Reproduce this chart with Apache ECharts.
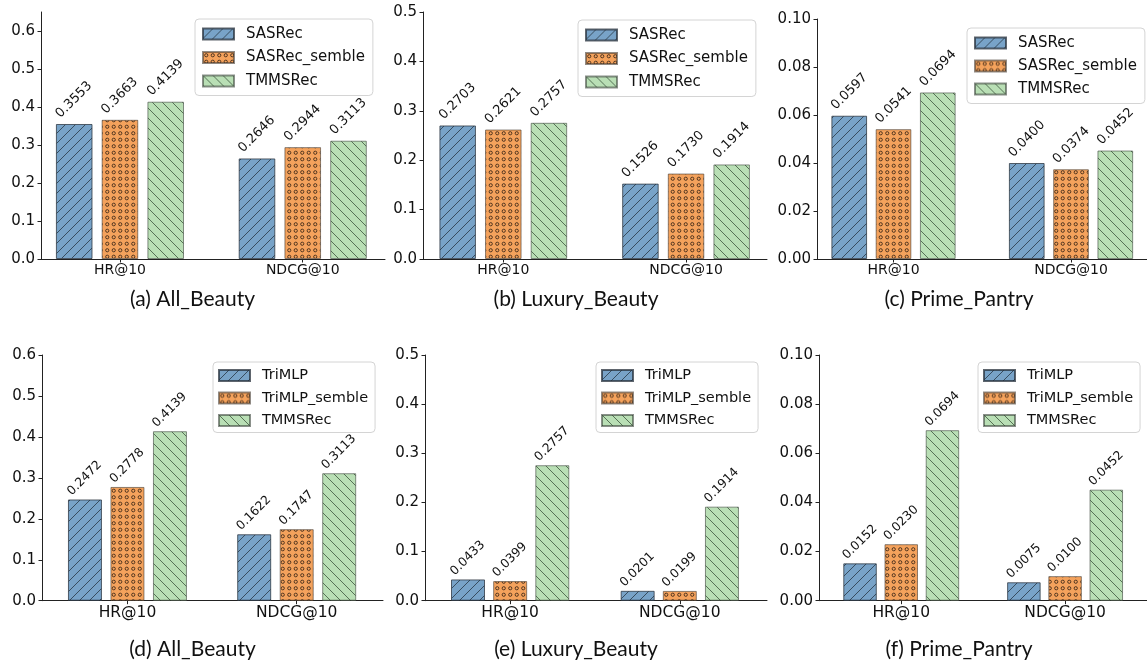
<!DOCTYPE html>
<html><head><meta charset="utf-8">
<script src="https://cdn.jsdelivr.net/npm/echarts@6/dist/echarts.min.js"></script>
<style>html,body{margin:0;padding:0;background:#fff}#c{width:1147px;height:664px}</style>
</head><body><div id="c"></div>
<script>
// ---------------- data ----------------
const categories = ['HR@10', 'NDCG@10'];
const methodsTop = ['SASRec', 'SASRec_semble', 'TMMSRec'];
const methodsBottom = ['TriMLP', 'TriMLP_semble', 'TMMSRec'];
const captions = ['(a) All_Beauty', '(b) Luxury_Beauty', '(c) Prime_Pantry',
                  '(d) All_Beauty', '(e) Luxury_Beauty', '(f) Prime_Pantry'];
// values per panel: [method][category]
const valuesA = [[0.3553, 0.2646], [0.3663, 0.2944], [0.4139, 0.3113]];
const valuesB = [[0.2703, 0.1526], [0.2621, 0.1730], [0.2757, 0.1914]];
const valuesC = [[0.0597, 0.0400], [0.0541, 0.0374], [0.0694, 0.0452]];
const valuesD = [[0.2472, 0.1622], [0.2778, 0.1747], [0.4139, 0.3113]];
const valuesE = [[0.0433, 0.0201], [0.0399, 0.0199], [0.2757, 0.1914]];
const valuesF = [[0.0152, 0.0075], [0.0230, 0.0100], [0.0694, 0.0452]];
const yMaxes = [0.65, 0.5, 0.1, 0.6, 0.5, 0.1];
const yIntervals = [0.1, 0.1, 0.02, 0.1, 0.1, 0.02];

// ---------------- layout / style ----------------
const panels = [
  {vals: valuesA, names: methodsTop,    left: 41,  top: 12,  width: 344, height: 247,   xMin: -0.432, xMax: 1.450, bw: 36.6, gap: '25%', lg: [195, 19], lgGap: 8.5, lgFs: 15, xFs: 14,   cap: [192.5, 299], dec: 1, lab: [2, -8], labFs: 13},
  {vals: valuesB, names: methodsTop,    left: 423, top: 12,  width: 344, height: 247,   xMin: -0.4395, xMax: 1.443, bw: 36.5, gap: '25%', lg: [578, 20], lgGap: 8.5, lgFs: 15, xFs: 14,   cap: [576, 299],   dec: 1, lab: [2, -8], labFs: 13},
  {vals: valuesC, names: methodsTop,    left: 817, top: 19,  width: 330, height: 240,   xMin: -0.431, xMax: 1.428, bw: 35.7, gap: '24%', lg: [967, 28], lgGap: 8, lgFs: 15, xFs: 14, cap: [959, 299],   dec: 2, lab: [2, -8], labFs: 13},
  {vals: valuesD, names: methodsBottom, left: 42,  top: 355, width: 341, height: 245.7, xMin: -0.505, xMax: 1.510, bw: 34,   gap: '25%', lg: [213, 362], lgGap: 7.5, lgFs: 14.5, xFs: 15.5, cap: [192.5, 649], dec: 1, lab: [1.5, -6], labFs: 12.3},
  {vals: valuesE, names: methodsBottom, left: 425, top: 355, width: 342, height: 245.7, xMin: -0.502, xMax: 1.514, bw: 34,   gap: '24%', lg: [596, 362], lgGap: 7.5, lgFs: 14.5, xFs: 15.5, cap: [576, 649],   dec: 1, lab: [1.5, -6], labFs: 12.3},
  {vals: valuesF, names: methodsBottom, left: 819, top: 355, width: 328, height: 245.7, xMin: -0.502, xMax: 1.500, bw: 33.5, gap: '23%', lg: [978, 362], lgGap: 7.5, lgFs: 14.5, xFs: 15.5, cap: [959, 649],   dec: 2, lab: [1.5, -6], labFs: 12.3}
];

function makePattern(bg, kind) {
  const c = document.createElement('canvas');
  let w = 10, h = 10;
  if (kind === 'o') { w = 13; h = 13; }
  c.width = w; c.height = h;
  const ctx = c.getContext('2d');
  ctx.fillStyle = bg; ctx.fillRect(0, 0, w, h);
  if (kind === '/') {
    ctx.strokeStyle = 'rgba(25,35,45,0.85)'; ctx.lineWidth = 0.8;
    ctx.beginPath();
    ctx.moveTo(-1, h + 1); ctx.lineTo(w + 1, -1);
    ctx.moveTo(-1, 1); ctx.lineTo(1, -1);
    ctx.moveTo(w - 1, h + 1); ctx.lineTo(w + 1, h - 1);
    ctx.stroke();
  } else if (kind === '\\') {
    ctx.strokeStyle = 'rgba(30,50,30,0.8)'; ctx.lineWidth = 0.8;
    ctx.beginPath();
    ctx.moveTo(-1, -1); ctx.lineTo(w + 1, h + 1);
    ctx.moveTo(w - 1, -1); ctx.lineTo(w + 1, 1);
    ctx.moveTo(-1, h - 1); ctx.lineTo(1, h + 1);
    ctx.stroke();
  } else {
    ctx.strokeStyle = 'rgba(40,25,15,0.85)'; ctx.lineWidth = 0.9;
    [[3.25, 3.25], [9.75, 3.25], [3.25, 9.75], [9.75, 9.75]].forEach(p => {
      ctx.beginPath(); ctx.arc(p[0], p[1], 1.6, 0, Math.PI * 2); ctx.stroke();
    });
  }
  return {image: c, repeat: 'repeat'};
}
const fills = [makePattern('#78a3c8', '/'), makePattern('#f4a25c', 'o'), makePattern('#b9dfb5', '\\')];
const borders = ['rgba(40,50,60,0.75)', 'rgba(70,60,50,0.6)', 'rgba(60,70,60,0.6)'];

const grids = [], xAxes = [], yAxes = [], series = [], legends = [], graphics = [];
panels.forEach((p, i) => {
  grids.push({left: p.left, top: p.top, width: p.width, height: p.height});
  xAxes.push({
    type: 'value', gridIndex: i, min: p.xMin, max: p.xMax,
    axisLine: {show: true, onZero: false, lineStyle: {color: '#222', width: 1}},
    axisTick: {show: true, length: 3.5, customValues: [0, 1], lineStyle: {color: '#222'}},
    axisLabel: {customValues: [0, 1], formatter: v => categories[Math.round(v)] || '',
      fontFamily: 'DejaVu Sans', fontSize: p.xFs, color: '#111', margin: 4},
    splitLine: {show: false}
  });
  yAxes.push({
    type: 'value', gridIndex: i, min: 0, max: yMaxes[i], interval: yIntervals[i],
    axisLine: {show: true, onZero: false, lineStyle: {color: '#222', width: 1}},
    axisTick: {show: true, length: 3.5, lineStyle: {color: '#222'}},
    axisLabel: {formatter: v => v.toFixed(p.dec), fontFamily: 'DejaVu Sans', fontSize: 15,
      color: '#111', margin: 6, showMaxLabel: yMaxes[i] === 0.65 ? false : true},
    splitLine: {show: false}
  });
  p.names.forEach((name, k) => {
    series.push({
      type: 'bar', name: name, xAxisIndex: i, yAxisIndex: i,
      data: categories.map((c, j) => [j, p.vals[k][j]]),
      barWidth: p.bw, barGap: p.gap,
      itemStyle: {color: fills[k], borderColor: borders[k], borderWidth: 1},
      emphasis: {disabled: true},
      label: {show: true, position: p.lab, rotate: 45, align: 'left', verticalAlign: 'middle',
        fontFamily: 'DejaVu Sans', fontSize: p.labFs, color: '#111',
        formatter: prm => prm.value[1].toFixed(4)}
    });
  });
  legends.push({
    orient: 'vertical', left: p.lg[0], top: p.lg[1], data: p.names,
    itemWidth: 31, itemHeight: 11, itemGap: p.lgGap,
    padding: i < 3 ? [7.5, 8, 7, 7] : [6, 7, 4.5, 5],
    borderColor: '#d4d4d4', borderWidth: 1, borderRadius: 4, backgroundColor: 'rgba(255,255,255,0.8)',
    selectedMode: false, icon: 'rect',
    textStyle: {fontFamily: 'DejaVu Sans', fontSize: p.lgFs, color: '#111', padding: [0, 0, 0, 7]}
  });
  graphics.push({type: 'text', x: p.cap[0], y: p.cap[1],
    style: {text: captions[i], align: 'center', verticalAlign: 'middle', font: '21px Lato', fill: '#111'}});
});

const chart = echarts.init(document.getElementById('c'), null, {renderer: 'canvas'});
chart.setOption({
  animation: false, backgroundColor: '#fff',
  grid: grids, xAxis: xAxes, yAxis: yAxes, series: series, legend: legends, graphic: graphics
});
</script></body></html>
